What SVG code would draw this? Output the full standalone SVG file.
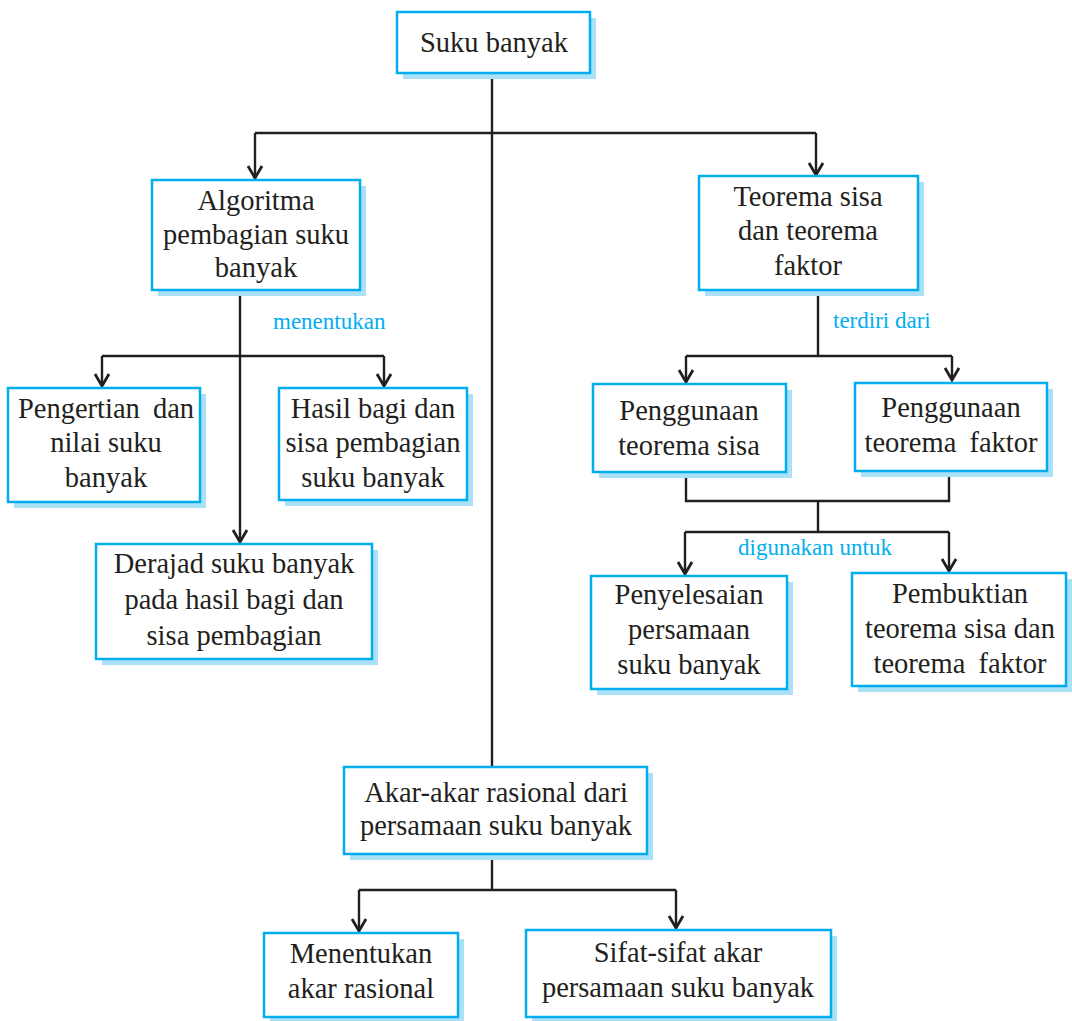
<svg xmlns="http://www.w3.org/2000/svg" width="1072" height="1021" viewBox="0 0 1072 1021">
<defs>
<style>
.sh{fill:#abe1f7;stroke:none}
.bx{fill:#ffffff;stroke:#00aeef;stroke-width:2.5}
.t{font-family:"Liberation Serif","Times New Roman",serif;font-size:28.5px;fill:#231f20;text-anchor:middle}
.ws{word-spacing:6px}
.lb{font-family:"Liberation Serif","Times New Roman",serif;font-size:23px;fill:#00aeef}
.ln{fill:none;stroke:#231f20;stroke-width:2.4}
</style>
<marker id="ah" markerUnits="userSpaceOnUse" markerWidth="20" markerHeight="20" refX="0" refY="0" viewBox="-14 -10 16 20" orient="auto">
<path d="M-12,-7 L0,0 L-12,7" fill="none" stroke="#231f20" stroke-width="2.8"/>
</marker>
</defs>
<rect width="1072" height="1021" fill="#ffffff"/>

<g id="connectors">
<path class="ln" d="M492,73 V767"/>
<path class="ln" d="M255,133 H816"/>
<path class="ln" d="M255,133 V178" marker-end="url(#ah)"/>
<path class="ln" d="M816,133 V175" marker-end="url(#ah)"/>
<path class="ln" d="M240,290 V542" marker-end="url(#ah)"/>
<path class="ln" d="M102,356 H384"/>
<path class="ln" d="M102,356 V386" marker-end="url(#ah)"/>
<path class="ln" d="M384,356 V386" marker-end="url(#ah)"/>
<path class="ln" d="M818,291 V356"/>
<path class="ln" d="M686,356 H952"/>
<path class="ln" d="M686,356 V382" marker-end="url(#ah)"/>
<path class="ln" d="M952,356 V380" marker-end="url(#ah)"/>
<path class="ln" d="M686,472 V501 H949 V471"/>
<path class="ln" d="M818,501 V532"/>
<path class="ln" d="M685,532 H949"/>
<path class="ln" d="M685,532 V574" marker-end="url(#ah)"/>
<path class="ln" d="M949,532 V571" marker-end="url(#ah)"/>
<path class="ln" d="M492,854 V890"/>
<path class="ln" d="M359,890 H676"/>
<path class="ln" d="M359,890 V931" marker-end="url(#ah)"/>
<path class="ln" d="M676,890 V928" marker-end="url(#ah)"/>
<text class="lb" x="273" y="329">menentukan</text>
<text class="lb" x="833" y="328">terdiri dari</text>
<text class="lb" x="738" y="555">digunakan untuk</text>
</g>

<g id="n-suku-banyak">
<rect class="sh" x="403" y="18" width="193" height="61"/>
<rect class="bx" x="397" y="12" width="193" height="61"/>
<text class="t" x="494" y="52">Suku banyak</text>
</g>

<g id="n-algoritma">
<rect class="sh" x="158" y="186" width="208" height="110"/>
<rect class="bx" x="152" y="180" width="208" height="110"/>
<text class="t" x="256" y="210">Algoritma</text>
<text class="t" x="256" y="244">pembagian suku</text>
<text class="t" x="256" y="277">banyak</text>
</g>

<g id="n-teorema">
<rect class="sh" x="705" y="182" width="219" height="114"/>
<rect class="bx" x="699" y="176" width="219" height="114"/>
<text class="t" x="808" y="206">Teorema sisa</text>
<text class="t" x="808" y="240">dan teorema</text>
<text class="t" x="808" y="275">faktor</text>
</g>

<g id="n-pengertian">
<rect class="sh" x="14" y="394" width="192" height="114"/>
<rect class="bx" x="8" y="388" width="192" height="114"/>
<text class="t ws" x="106" y="418">Pengertian dan</text>
<text class="t" x="106" y="452">nilai suku</text>
<text class="t" x="106" y="487">banyak</text>
</g>

<g id="n-hasil-bagi">
<rect class="sh" x="285" y="394" width="188" height="112"/>
<rect class="bx" x="279" y="388" width="188" height="112"/>
<text class="t" x="373" y="418">Hasil bagi dan</text>
<text class="t" x="373" y="452">sisa pembagian</text>
<text class="t" x="373" y="487">suku banyak</text>
</g>

<g id="n-derajad">
<rect class="sh" x="102" y="550" width="276" height="115"/>
<rect class="bx" x="96" y="544" width="276" height="115"/>
<text class="t" x="234" y="573">Derajad suku banyak</text>
<text class="t" x="234" y="609">pada hasil bagi dan</text>
<text class="t" x="234" y="645">sisa pembagian</text>
</g>

<g id="n-penggunaan-sisa">
<rect class="sh" x="599" y="390" width="193" height="88"/>
<rect class="bx" x="593" y="384" width="193" height="88"/>
<text class="t" x="689" y="420">Penggunaan</text>
<text class="t" x="689" y="455">teorema sisa</text>
</g>

<g id="n-penggunaan-faktor">
<rect class="sh" x="861" y="389" width="192" height="88"/>
<rect class="bx" x="855" y="383" width="192" height="88"/>
<text class="t" x="951" y="417">Penggunaan</text>
<text class="t ws" x="951" y="452">teorema faktor</text>
</g>

<g id="n-penyelesaian">
<rect class="sh" x="597" y="582" width="196" height="113"/>
<rect class="bx" x="591" y="576" width="196" height="113"/>
<text class="t" x="689" y="604">Penyelesaian</text>
<text class="t" x="689" y="639">persamaan</text>
<text class="t" x="689" y="674">suku banyak</text>
</g>

<g id="n-pembuktian">
<rect class="sh" x="858" y="579" width="214" height="113"/>
<rect class="bx" x="852" y="573" width="214" height="113"/>
<text class="t" x="960" y="603">Pembuktian</text>
<text class="t" x="960" y="638">teorema sisa dan</text>
<text class="t ws" x="960" y="673">teorema faktor</text>
</g>

<g id="n-akar-akar">
<rect class="sh" x="350" y="773" width="303" height="87"/>
<rect class="bx" x="344" y="767" width="303" height="87"/>
<text class="t" x="496" y="802">Akar-akar rasional dari</text>
<text class="t" x="496" y="835">persamaan suku banyak</text>
</g>

<g id="n-menentukan">
<rect class="sh" x="270" y="939" width="194" height="84"/>
<rect class="bx" x="264" y="933" width="194" height="84"/>
<text class="t" x="361" y="963">Menentukan</text>
<text class="t" x="361" y="998">akar rasional</text>
</g>

<g id="n-sifat-sifat">
<rect class="sh" x="532" y="936" width="305" height="87"/>
<rect class="bx" x="526" y="930" width="305" height="87"/>
<text class="t" x="678" y="962">Sifat-sifat akar</text>
<text class="t" x="678" y="997">persamaan suku banyak</text>
</g>
</svg>
